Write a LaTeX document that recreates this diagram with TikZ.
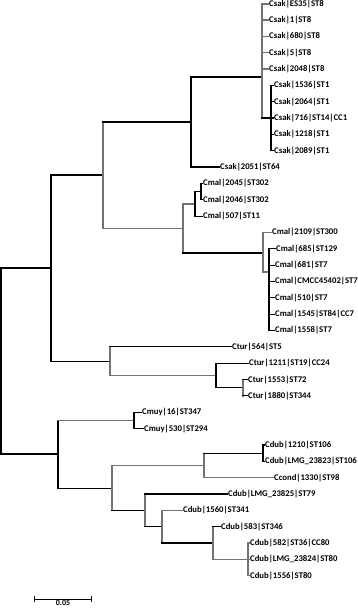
\documentclass[tikz,border=0pt]{standalone}
\usepackage{fontspec}
\setmainfont{Carlito}
\usetikzlibrary{arrows.meta}
\definecolor{ink}{HTML}{000000}
\definecolor{branchgray}{HTML}{737373}

\begin{document}
\begin{tikzpicture}[x=1pt,y=-1pt,line cap=rect,
  br/.style={line width=1.05pt,draw=ink},
  gbr/.style={line width=1.3pt,draw=branchgray},
  leaf/.style={anchor=west,inner sep=1pt,font=\fontsize{8.7}{10}\selectfont\bfseries}]
\useasboundingbox (0,0) rectangle (358,610);
% leaves
\node[leaf] (l0) at (268,4) {Csak|ES35|ST8};
\node[leaf] (l1) at (268,19.9) {Csak|1|ST8};
\node[leaf] (l2) at (268,36.2) {Csak|680|ST8};
\node[leaf] (l3) at (268,52.6) {Csak|5|ST8};
\node[leaf] (l4) at (268,68.9) {Csak|2048|ST8};
\node[leaf] (l5) at (273,85.3) {Csak|1536|ST1};
\node[leaf] (l6) at (273,101.6) {Csak|2064|ST1};
\node[leaf] (l7) at (273,118) {Csak|716|ST14|CC1};
\node[leaf] (l8) at (273,134.3) {Csak|1218|ST1};
\node[leaf] (l9) at (273,150.7) {Csak|2089|ST1};
\node[leaf] (l10) at (219,167) {Csak|2051|ST64};
\node[leaf] (l11) at (202,183.4) {Cmal|2045|ST302};
\node[leaf] (l12) at (202,199.7) {Cmal|2046|ST302};
\node[leaf] (l13) at (202,216.1) {Cmal|507|ST11};
\node[leaf] (l14) at (271,232.4) {Cmal|2109|ST300};
\node[leaf] (l15) at (275,248.8) {Cmal|685|ST129};
\node[leaf] (l16) at (274,265.1) {Cmal|681|ST7};
\node[leaf] (l17) at (274,281.5) {Cmal|CMCC45402|ST7};
\node[leaf] (l18) at (274,297.8) {Cmal|510|ST7};
\node[leaf] (l19) at (274,314.2) {Cmal|1545|ST84|CC7};
\node[leaf] (l20) at (274,330.5) {Cmal|1558|ST7};
\node[leaf] (l21) at (231,346.9) {Ctur|564|ST5};
\node[leaf] (l22) at (248,363.2) {Ctur|1211|ST19|CC24};
\node[leaf] (l23) at (247,379.6) {Ctur|1553|ST72};
\node[leaf] (l24) at (247,395.9) {Ctur|1880|ST344};
\node[leaf] (l25) at (141,412.3) {Cmuy|16|ST347};
\node[leaf] (l26) at (143,428.6) {Cmuy|530|ST294};
\node[leaf] (l27) at (264,445) {Cdub|1210|ST106};
\node[leaf] (l28) at (264,461.3) {Cdub|LMG\_23823|ST106};
\node[leaf] (l29) at (273,477.7) {Ccond|1330|ST98};
\node[leaf] (l30) at (227,494) {Cdub|LMG\_23825|ST79};
\node[leaf] (l31) at (182,510.4) {Cdub|1560|ST341};
\node[leaf] (l32) at (220,526.7) {Cdub|583|ST346};
\node[leaf] (l33) at (249,543.1) {Cdub|582|ST36|CC80};
\node[leaf] (l34) at (249,559.4) {Cdub|LMG\_23824|ST80};
\node[leaf] (l35) at (249,575.8) {Cdub|1556|ST80};
% inner nodes
\coordinate (root) at (1,361);
\coordinate (A) at (51,268);
\coordinate (B) at (103,175);
\coordinate (C) at (191,122);
\coordinate (D) at (262,77);
\coordinate (E) at (271,118);
\coordinate (F) at (183,228.5);
\coordinate (G) at (195,204);
\coordinate (H) at (201,191.5);
\coordinate (I) at (263,253);
\coordinate (J) at (269,272);
\coordinate (K) at (110,361.5);
\coordinate (L) at (216,375.5);
\coordinate (M) at (243,387.7);
\coordinate (N) at (58,454);
\coordinate (O) at (134,420.5);
\coordinate (P) at (112,488.5);
\coordinate (R) at (204,465.5);
\coordinate (Q) at (263,453.2);
\coordinate (S) at (145,510.5);
\coordinate (T) at (162,526.7);
\coordinate (U) at (213,543);
\coordinate (V) at (248,559.4);
% root
\draw[br] (root|-A) -- (root|-N);
\draw[br] (root|-A) -- (A);
\draw[br] (root|-N) -- (N);
% Csak / Cmal / Ctur
\draw[br] (A|-B) -- (A|-K);
\draw[br] (A|-B) -- (B);
\draw[br] (A|-K) -- (K);
\draw[gbr] (B|-C) -- (B|-F);
\draw[br] (B|-C) -- (C);
\draw[gbr] (B|-F) -- (F);
\draw[br] (C|-D) -- (C|-l10);
\draw[br] (C|-D) -- (D);
\draw[br] (C|-l10) -- (l10.west);
\draw[gbr] (D|-l0) -- (D|-E);
\foreach \k in {0,...,4} \draw[gbr] (D|-l\k) -- (l\k.west);
\draw[br] (D|-E) -- (E);
\draw[br] (E|-l5) -- (E|-l9);
\foreach \k in {5,...,9} \draw[br] (E|-l\k) -- (l\k.west);
\draw[gbr] (F|-G) -- (F|-I);
\draw[gbr] (F|-G) -- (G);
\draw[br] (F|-I) -- (I);
\draw[br] (G|-H) -- (G|-l13);
\draw[br] (G|-H) -- (H);
\draw[br] (G|-l13) -- (l13.west);
\draw[br] (H|-l11) -- (H|-l12);
\foreach \k in {11,12} \draw[br] (H|-l\k) -- (l\k.west);
\draw[gbr] (I|-l14) -- (I|-J);
\draw[gbr] (I|-l14) -- (l14.west);
\draw[gbr] (I|-J) -- (J);
\draw[br] (J|-l15) -- (J|-l20);
\foreach \k in {15,...,20} \draw[br] (J|-l\k) -- (l\k.west);
\draw[gbr] (K|-l21) -- (K|-L);
\draw[br] (K|-l21) -- (l21.west);
\draw[gbr] (K|-L) -- (L);
\draw[br] (L|-l22) -- (L|-M);
\draw[br] (L|-l22) -- (l22.west);
\draw[br] (L|-M) -- (M);
\draw[gbr] (M|-l23) -- (M|-l24);
\foreach \k in {23,24} \draw[br] (M|-l\k) -- (l\k.west);
% Cmuy / Cdub
\draw[br] (N|-O) -- (N|-P);
\draw[gbr] (N|-O) -- (O);
\draw[br] (N|-P) -- (P);
\draw[br] (O|-l25) -- (O|-l26);
\foreach \k in {25,26} \draw[br] (O|-l\k) -- (l\k.west);
\draw[gbr] (P|-R) -- (P|-S);
\draw[gbr] (P|-R) -- (R);
\draw[br] (P|-S) -- (S);
\draw[gbr] (R|-Q) -- (R|-l29);
\draw[br] (R|-Q) -- (Q);
\draw[gbr] (R|-l29) -- (l29.west);
\draw[br] (Q|-l27) -- (Q|-l28);
\foreach \k in {27,28} \draw[br] (Q|-l\k) -- (l\k.west);
\draw[gbr] (S|-l30) -- (S|-T);
\draw[br] (S|-l30) -- (l30.west);
\draw[br] (S|-T) -- (T);
\draw[gbr] (T|-l31) -- (T|-U);
\draw[gbr] (T|-l31) -- (l31.west);
\draw[br] (T|-U) -- (U);
\draw[gbr] (U|-l32) -- (U|-V);
\draw[br] (U|-l32) -- (l32.west);
\draw[gbr] (U|-V) -- (V);
\draw[gbr] (V|-l33) -- (V|-l35);
\foreach \k in {33,34,35} \draw[gbr] (V|-l\k) -- (l\k.west);
% scale bar
\coordinate (sbl) at (34,599);
\coordinate (sbr) at (92,599);
\draw[line width=0.9pt,line cap=butt,{Bar[width=6pt]}-{Bar[width=6pt]}] (sbl) -- (sbr)
  node[midway,below=0pt,inner sep=1pt,font=\fontsize{8}{9}\selectfont\bfseries] (sblabel) {0.05};
\end{tikzpicture}
\end{document}
